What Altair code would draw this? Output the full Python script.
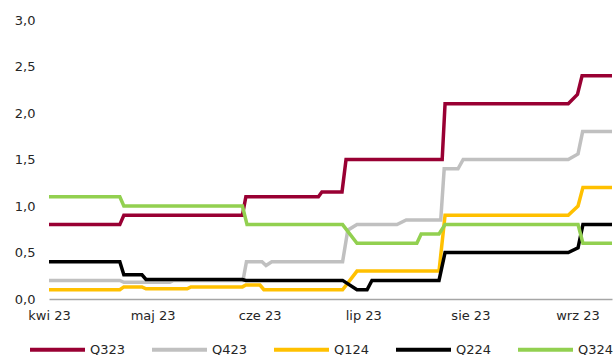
import altair as alt
import pandas as pd

series_names = ["Q323", "Q423", "Q124", "Q224", "Q324"]
series_colors = ["#990033", "#C0C0C0", "#FFC000", "#000000", "#92D050"]

q323_dates = ["2023-04-01T00:00", "2023-04-21T12:00", "2023-04-22T16:00", "2023-05-27T00:00",
              "2023-05-28T00:00", "2023-06-18T00:00", "2023-06-19T00:00", "2023-06-24T20:00",
              "2023-06-26T00:00", "2023-07-23T20:00", "2023-07-24T16:00", "2023-08-29T08:00",
              "2023-09-01T00:00", "2023-09-02T08:00", "2023-09-11T00:00"]
q323_vals = [0.8, 0.8, 0.9, 0.9, 1.1, 1.1, 1.15, 1.15, 1.5, 1.5, 2.1, 2.1, 2.2, 2.4, 2.4]

q423_dates = ["2023-04-01T00:00", "2023-04-21T12:00", "2023-04-22T16:00", "2023-05-06T00:00",
              "2023-05-07T00:00", "2023-05-27T04:00", "2023-05-28T04:00", "2023-06-01T16:00",
              "2023-06-02T20:00", "2023-06-04T12:00", "2023-06-25T00:00", "2023-06-26T12:00",
              "2023-06-29T04:00", "2023-07-10T18:00", "2023-07-13T10:00", "2023-07-23T10:00",
              "2023-07-24T10:00", "2023-07-28T10:00", "2023-07-29T22:00", "2023-08-29T08:00",
              "2023-09-01T04:00", "2023-09-02T12:00", "2023-09-11T00:00"]
q423_vals = [0.2, 0.2, 0.18, 0.18, 0.2, 0.2, 0.4, 0.4, 0.36, 0.4, 0.4, 0.74, 0.8, 0.8, 0.85,
             0.85, 1.4, 1.4, 1.5, 1.5, 1.56, 1.8, 1.8]

q124_dates = ["2023-04-01T00:00", "2023-04-21T12:00", "2023-04-22T16:00", "2023-04-27T22:00",
              "2023-04-29T02:00", "2023-05-11T00:00", "2023-05-12T02:00", "2023-05-27T00:00",
              "2023-05-28T00:00", "2023-06-01T02:00", "2023-06-02T05:00", "2023-06-25T00:00",
              "2023-06-29T04:00", "2023-07-22T22:00", "2023-07-24T16:00", "2023-08-29T08:00",
              "2023-09-01T04:00", "2023-09-02T14:00", "2023-09-11T00:00"]
q124_vals = [0.1, 0.1, 0.13, 0.13, 0.11, 0.11, 0.13, 0.13, 0.15, 0.15, 0.1, 0.1, 0.3, 0.3,
             0.9, 0.9, 1.0, 1.2, 1.2]

q224_dates = ["2023-04-01T00:00", "2023-04-21T12:00", "2023-04-22T16:00", "2023-04-27T22:00",
              "2023-04-29T02:00", "2023-05-27T00:00", "2023-05-28T00:00", "2023-06-25T00:00",
              "2023-06-29T04:00", "2023-07-02T02:00", "2023-07-03T12:00", "2023-07-22T22:00",
              "2023-07-24T16:00", "2023-08-29T08:00", "2023-09-01T04:00", "2023-09-02T14:00",
              "2023-09-11T00:00"]
q224_vals = [0.4, 0.4, 0.26, 0.26, 0.21, 0.21, 0.2, 0.2, 0.1, 0.1, 0.2, 0.2, 0.5, 0.5, 0.55,
             0.8, 0.8]

q324_dates = ["2023-04-01T00:00", "2023-04-21T12:00", "2023-04-22T16:00", "2023-05-27T00:00",
              "2023-05-28T08:00", "2023-06-25T00:00", "2023-06-29T04:00", "2023-07-16T12:00",
              "2023-07-17T18:00", "2023-07-22T22:00", "2023-07-24T16:00", "2023-09-01T04:00",
              "2023-09-02T14:00", "2023-09-11T00:00"]
q324_vals = [1.1, 1.1, 1.0, 1.0, 0.8, 0.8, 0.6, 0.6, 0.7, 0.7, 0.8, 0.8, 0.6, 0.6]

month_names = ["sty", "lut", "mar", "kwi", "maj", "cze", "lip", "sie", "wrz", "paź", "lis", "gru"]
tick_months = [4, 5, 6, 7, 8, 9]
y_ticks = [0, 0.5, 1.0, 1.5, 2.0, 2.5, 3.0]

all_series = [
    ("Q323", q323_dates, q323_vals),
    ("Q423", q423_dates, q423_vals),
    ("Q124", q124_dates, q124_vals),
    ("Q224", q224_dates, q224_vals),
    ("Q324", q324_dates, q324_vals),
]
rows = []
for name, ds, vs in all_series:
    for d, v in zip(ds, vs):
        rows.append({"series": name, "date": d, "value": v})
df = pd.DataFrame(rows)

FONT = "DejaVu Sans"
label_expr = "[" + ",".join("'%s'" % m for m in month_names) + "][month(datum.value)] + ' 23'"

chart = alt.Chart(df).mark_line(strokeWidth=3.5, interpolate="linear").encode(
    x=alt.X("date:T",
            scale=alt.Scale(domain=[alt.DateTime(year=2023, month=4, date=1),
                                    alt.DateTime(year=2023, month=9, date=11)]),
            axis=alt.Axis(title=None, grid=False, ticks=False,
                          values=[alt.DateTime(year=2023, month=m, date=1) for m in tick_months],
                          labelExpr=label_expr, labelFont=FONT, labelFontSize=13,
                          labelColor="#262626", labelPadding=10,
                          domainColor="#A6A6A6", domainWidth=1.5, labelFlush=False)),
    y=alt.Y("value:Q",
            scale=alt.Scale(domain=[0, 3], nice=False),
            axis=alt.Axis(title=None, grid=False, ticks=False, domain=False,
                          values=y_ticks,
                          labelExpr="replace(format(datum.value, '.1f'), '.', ',')",
                          labelFont=FONT, labelFontSize=13, labelColor="#262626",
                          labelPadding=14)),
    color=alt.Color("series:N",
                    scale=alt.Scale(domain=series_names, range=series_colors),
                    legend=alt.Legend(title=None, orient="none", direction="horizontal",
                                      legendX=-21, legendY=300,
                                      symbolType="stroke", symbolSize=3025,
                                      symbolStrokeWidth=4, labelOffset=3,
                                      columnPadding=18, labelFont=FONT,
                                      labelFontSize=13, labelColor="#262626")),
    detail="series:N",
).properties(
    width=563, height=279,
    autosize=alt.AutoSizeParams(type="none"),
    padding={"left": 49, "top": 20, "right": 4, "bottom": 56},
).configure_view(stroke=None)

chart.save("out.html", embed_options={"renderer": "svg", "actions": False})
